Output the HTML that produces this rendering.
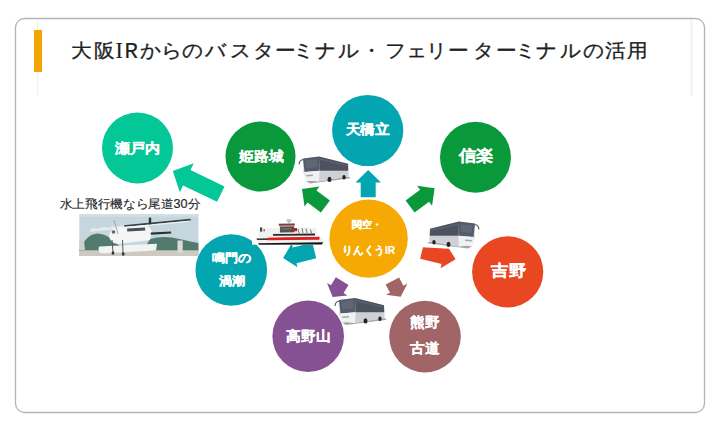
<!DOCTYPE html>
<html><head><meta charset="utf-8"><style>
html,body{margin:0;padding:0;background:#fff;}
svg{display:block;font-family:"Liberation Sans",sans-serif;}
</style></head><body>
<svg width="720" height="432" viewBox="0 0 720 432">
<rect x="15.5" y="18.5" width="689" height="394" rx="9" fill="#fff" stroke="#b4b4b4" stroke-width="1.3"/>
<line x1="37.6" y1="20" x2="37.6" y2="96" stroke="#eff1f3" stroke-width="1"/>
<rect x="34" y="30" width="8" height="42" fill="#f4a405"/>
<rect x="690" y="20" width="3" height="75.5" fill="#f4f4f5"/>
<g fill="#1f1f1f" stroke="#1f1f1f" stroke-width="0.3">
<text transform="scale(1.09,1)" font-size="19" y="56.9" x="65.60 86.06 128.85 147.61 167.11 187.80 211.15 231.83 251.97 268.90 288.76 310.00 331.06 353.39 372.80 391.15 411.38 434.40 454.59 472.25 492.11 514.13 534.68 554.72 575.09">大阪からのバスターミナル・フェリーターミナルの活用</text>
<text x="115.2" y="57.5" font-family="Liberation Serif, serif" font-size="23.5" stroke-width="0">I</text>
<text x="124.6" y="57.5" font-family="Liberation Mono, monospace" font-size="22.5" stroke-width="0.15">R</text>
</g>
<polygon points="0.00,-8.50 37.81,-8.50 37.81,-16.00 53.31,0.00 37.81,16.00 37.81,8.50 0.00,8.50" fill="#04c797" transform="translate(220.80,194.20) rotate(-154.20)"/>
<polygon points="0.00,-7.50 14.80,-7.50 14.80,-12.75 27.30,0.00 14.80,12.75 14.80,7.50 0.00,7.50" fill="#02a5b0" transform="translate(368.20,197.30) rotate(-90.00)"/>
<polygon points="0.00,-7.50 16.72,-7.50 16.72,-12.50 29.22,0.00 16.72,12.50 16.72,7.50 0.00,7.50" fill="#0a993a" transform="translate(325.40,206.50) rotate(-143.21)"/>
<polygon points="0.00,-7.50 18.08,-7.50 18.08,-12.50 30.58,0.00 18.08,12.50 18.08,7.50 0.00,7.50" fill="#0a993a" transform="translate(410.10,206.60) rotate(-36.76)"/>
<polygon points="0.00,-8.10 20.31,-8.10 20.31,-12.20 32.11,0.00 20.31,12.20 20.31,8.10 0.00,8.10" fill="#02a5b0" transform="translate(314.30,250.50) rotate(166.31)"/>
<polygon points="0.00,-8.00 22.09,-8.00 22.09,-12.30 34.59,0.00 22.09,12.30 22.09,8.00 0.00,8.00" fill="#e84722" transform="translate(422.00,251.10) rotate(13.71)"/>
<polygon points="0.00,-7.40 9.49,-7.40 9.49,-12.00 18.49,0.00 9.49,12.00 9.49,7.40 0.00,7.40" fill="#865193" transform="translate(342.20,281.10) rotate(121.28)"/>
<polygon points="0.00,-7.60 9.31,-7.60 9.31,-12.15 17.91,0.00 9.31,12.15 9.31,7.60 0.00,7.60" fill="#a16567" transform="translate(392.35,280.95) rotate(62.22)"/>
<circle cx="137.5" cy="148" r="35.5" fill="#04c797"/>
<circle cx="260.5" cy="156.5" r="35" fill="#0a993a"/>
<circle cx="367.7" cy="130.5" r="35.6" fill="#02a5b0"/>
<circle cx="475.5" cy="157.3" r="35.5" fill="#0a993a"/>
<circle cx="507.7" cy="271.8" r="35.6" fill="#e84722"/>
<circle cx="425" cy="336.6" r="35.8" fill="#a16567"/>
<circle cx="308.2" cy="336.3" r="35.8" fill="#865193"/>
<circle cx="231.3" cy="270" r="35.8" fill="#02a5b0"/>
<circle cx="368.6" cy="238.6" r="39.2" fill="#f6a902"/>
<text x="115.18" y="153.40" font-size="14.10" font-weight="bold" fill="#fff" stroke="#fff" stroke-width="0.25" stroke-linejoin="round" textLength="45.25" lengthAdjust="spacingAndGlyphs">瀬戸内</text>
<text x="239.48" y="160.70" font-size="14.10" font-weight="bold" fill="#fff" stroke="#fff" stroke-width="0.25" stroke-linejoin="round" textLength="44.25" lengthAdjust="spacingAndGlyphs">姫路城</text>
<text x="345.57" y="133.70" font-size="13.60" font-weight="bold" fill="#fff" stroke="#fff" stroke-width="0.25" stroke-linejoin="round" textLength="44.25" lengthAdjust="spacingAndGlyphs">天橋立</text>
<text x="458.62" y="160.90" font-size="15.60" font-weight="bold" fill="#fff" stroke="#fff" stroke-width="0.25" stroke-linejoin="round" textLength="34.75" lengthAdjust="spacingAndGlyphs">信楽</text>
<text x="491.23" y="276.00" font-size="16.10" font-weight="bold" fill="#fff" stroke="#fff" stroke-width="0.25" stroke-linejoin="round" textLength="34.75" lengthAdjust="spacingAndGlyphs">吉野</text>
<text x="410.17" y="327.00" font-size="13.60" font-weight="bold" fill="#fff" stroke="#fff" stroke-width="0.25" stroke-linejoin="round" textLength="29.45" lengthAdjust="spacingAndGlyphs">熊野</text>
<text x="410.17" y="353.20" font-size="13.60" font-weight="bold" fill="#fff" stroke="#fff" stroke-width="0.25" stroke-linejoin="round" textLength="29.45" lengthAdjust="spacingAndGlyphs">古道</text>
<text x="286.12" y="340.70" font-size="13.60" font-weight="bold" fill="#fff" stroke="#fff" stroke-width="0.25" stroke-linejoin="round" textLength="44.35" lengthAdjust="spacingAndGlyphs">高野山</text>
<text x="211.90" y="262.00" font-size="12.30" font-weight="bold" fill="#fff" stroke="#fff" stroke-width="0.2" stroke-linejoin="round" textLength="39.40" lengthAdjust="spacingAndGlyphs">鳴門の</text>
<text x="218.55" y="284.60" font-size="12.30" font-weight="bold" fill="#fff" stroke="#fff" stroke-width="0.2" stroke-linejoin="round" textLength="26.10" lengthAdjust="spacingAndGlyphs">渦潮</text>
<text x="352.40" y="228.40" font-size="10.30" font-weight="bold" fill="#fff" stroke="#fff" stroke-width="0.2" stroke-linejoin="round" textLength="29.80" lengthAdjust="spacingAndGlyphs">関空・</text>
<text x="342.40" y="253.80" font-size="10.60" font-weight="bold" fill="#fff" stroke="#fff" stroke-width="0.2" stroke-linejoin="round" textLength="52.80" lengthAdjust="spacingAndGlyphs">りんくうIR</text>
<text x="59.6" y="208.4" font-size="12" fill="#262626" stroke="#262626" stroke-width="0.15" textLength="140.6" lengthAdjust="spacingAndGlyphs">水上飛行機なら尾道30分</text>
<g>
<rect x="79.3" y="214.3" width="119.1" height="41.7" fill="#c5d6de"/>
<rect x="79.3" y="214.3" width="119.1" height="2.5" fill="#d3dee3"/>
<path d="M79.3,250 L82,246 Q86,235 97,233.5 Q106,233.5 112,240 L120,246 L146,246 L150,239 Q160,236 172,237.5 L184,240 Q192,242 198.4,243 L198.4,251 L79.3,251 Z" fill="#527a6e"/>
<path d="M79.3,240 L84,240 L85,250 L79.3,250 Z" fill="#cfd0cc"/>
<rect x="79.3" y="250.3" width="119.1" height="5.7" fill="#ccc9c1"/>
<rect x="177.5" y="240.5" width="5.2" height="12" fill="#dcdcd7"/>
<path d="M89.5,228.6 L190.4,218.8 L191.2,220.4 L89.8,230.2 Z" fill="#3a4247"/>
<path d="M89,228.2 L124,224.8 L124.5,227.4 L89.6,230.6 Z" fill="#dfe4e6"/>
<path d="M89.8,230.2 L191.2,220.4 L186,222.2 L91,231.6 Z" fill="#eef1f2"/>
<rect x="148.8" y="217.6" width="2.4" height="6.8" fill="#2b3237"/>
<path d="M109,236 Q110,229 117,227.5 L144,225.6 Q151,226.5 152,232 L150,240 L118,244 Q110,243 109,236 Z" fill="#f4f6f6"/>
<path d="M127,228.6 L145,227.5 L145.3,230.6 L127.3,231.4 Z" fill="#485058"/>
<path d="M150.7,232.6 L171,231.4 L171.2,233.6 L150.8,234.8 Z" fill="#2b3237"/>
<path d="M99,246.5 L157,243.8 L156,250.5 L101,253.6 Q97.5,251 99,246.5 Z" fill="#f2f4f4"/>
<path d="M112,240 L113,252 M122.5,240 L123,253" stroke="#52585c" stroke-width="1"/>
<ellipse cx="113" cy="253" rx="1.4" ry="1.7" fill="#333"/>
<ellipse cx="123.2" cy="254" rx="1.4" ry="1.7" fill="#333"/>
<path d="M114,220 L118,234" stroke="#9aa2a6" stroke-width="0.9"/>
<circle cx="113.5" cy="232" r="1.8" fill="#61686d"/>
</g>
<g transform="translate(296,154)"><path d="M10,27.2 L52,22.6 L55,24.2 L14,29.6 Z" fill="#3a3a3a" opacity=".45"/>
<path d="M7,4.5 L23,2.4 L52,9.8 L52.5,22.5 L23,27.5 L10,26 L7,18 Z" fill="#dfe2e6"/>
<path d="M23.5,16.8 L52.3,16.8 L52.5,22.5 L23,27.5 Z" fill="#cdd1d6"/>
<path d="M7,4.5 L23,2.4 L23.5,16.8 L8.5,18 Z" fill="#545b6a"/>
<path d="M9.5,6.5 L21,5 L21.5,13 L10,14 Z" fill="#646c7c" opacity=".7"/>
<path d="M23,2.4 L52,9.8 L52.3,16.8 L23.5,16.8 Z" fill="#4c525e"/>
<path d="M24,4.5 L51,11 L51,12 L24,6 Z" fill="#5c6371"/>
<path d="M8.5,18 L23.5,16.8 L23,27.5 L10,26 Z" fill="#f0f1f3"/>
<path d="M10,21 L17,20.5 L17,22 L10.5,22.5 Z" fill="#a3a8b0"/>
<ellipse cx="33.5" cy="25.4" rx="2" ry="2.6" fill="#252525"/>
<ellipse cx="48" cy="23.2" rx="1.7" ry="2.2" fill="#252525"/>
<path d="M7.5,5.5 Q3,6 3.2,10.5" stroke="#5a5a5a" fill="none" stroke-width="1.1"/></g>
<g transform="translate(332,295.5)"><path d="M10,27.2 L52,22.6 L55,24.2 L14,29.6 Z" fill="#3a3a3a" opacity=".45"/>
<path d="M7,4.5 L23,2.4 L52,9.8 L52.5,22.5 L23,27.5 L10,26 L7,18 Z" fill="#dfe2e6"/>
<path d="M23.5,16.8 L52.3,16.8 L52.5,22.5 L23,27.5 Z" fill="#cdd1d6"/>
<path d="M7,4.5 L23,2.4 L23.5,16.8 L8.5,18 Z" fill="#545b6a"/>
<path d="M9.5,6.5 L21,5 L21.5,13 L10,14 Z" fill="#646c7c" opacity=".7"/>
<path d="M23,2.4 L52,9.8 L52.3,16.8 L23.5,16.8 Z" fill="#4c525e"/>
<path d="M24,4.5 L51,11 L51,12 L24,6 Z" fill="#5c6371"/>
<path d="M8.5,18 L23.5,16.8 L23,27.5 L10,26 Z" fill="#f0f1f3"/>
<path d="M10,21 L17,20.5 L17,22 L10.5,22.5 Z" fill="#a3a8b0"/>
<ellipse cx="33.5" cy="25.4" rx="2" ry="2.6" fill="#252525"/>
<ellipse cx="48" cy="23.2" rx="1.7" ry="2.2" fill="#252525"/>
<path d="M7.5,5.5 Q3,6 3.2,10.5" stroke="#5a5a5a" fill="none" stroke-width="1.1"/></g>
<path d="M417,236 H454 V248.9 L417,246.9 Z" fill="#fff"/>
<g transform="translate(482,219) scale(-1,1)"><path d="M10,27.2 L52,22.6 L55,24.2 L14,29.6 Z" fill="#3a3a3a" opacity=".45"/>
<path d="M7,4.5 L23,2.4 L52,9.8 L52.5,22.5 L23,27.5 L10,26 L7,18 Z" fill="#dfe2e6"/>
<path d="M23.5,16.8 L52.3,16.8 L52.5,22.5 L23,27.5 Z" fill="#cdd1d6"/>
<path d="M7,4.5 L23,2.4 L23.5,16.8 L8.5,18 Z" fill="#545b6a"/>
<path d="M9.5,6.5 L21,5 L21.5,13 L10,14 Z" fill="#646c7c" opacity=".7"/>
<path d="M23,2.4 L52,9.8 L52.3,16.8 L23.5,16.8 Z" fill="#4c525e"/>
<path d="M24,4.5 L51,11 L51,12 L24,6 Z" fill="#5c6371"/>
<path d="M8.5,18 L23.5,16.8 L23,27.5 L10,26 Z" fill="#f0f1f3"/>
<path d="M10,21 L17,20.5 L17,22 L10.5,22.5 Z" fill="#a3a8b0"/>
<ellipse cx="33.5" cy="25.4" rx="2" ry="2.6" fill="#252525"/>
<ellipse cx="48" cy="23.2" rx="1.7" ry="2.2" fill="#252525"/>
<path d="M7.5,5.5 Q3,6 3.2,10.5" stroke="#5a5a5a" fill="none" stroke-width="1.1"/></g>
<g>
<rect x="252" y="216" width="76" height="28.7" fill="#fff"/>
<path d="M255,237.6 L320,236.6 L325.8,241.3 L322.5,244.5 L259,244.7 Z" fill="#f2f2f2"/>
<path d="M256.5,238.6 L268,238.3 L268,240 L257,240.1 Z" fill="#3a3a3a"/>
<path d="M267.5,237.6 L319.5,236.8 L319.5,239.8 L267.5,240.2 Z" fill="#de1f1f"/>
<path d="M258,243.3 L323,242.3 L322,244.5 L259,244.8 Z" fill="#161616"/>
<path d="M259,228.5 L316,227.5 L317.5,236.6 L258,237.4 Z" fill="#f0f0f0"/>
<path d="M273,234 L315,233.5 L315,235.4 L273,235.7 Z" fill="#2a2a2a"/>
<rect x="260" y="227.4" width="2.2" height="4.2" fill="#4a4a4a"/>
<rect x="263.5" y="229" width="1.5" height="2.5" fill="#888"/>
<path d="M298,229 L299,233 M302,228 L303,233 M306,228.5 L307,233 M310.5,229.5 L311.5,233" stroke="#777" stroke-width="1"/>
<path d="M278.8,223.8 L294.7,223.4 L295.3,233.6 L278.6,233.9 Z" fill="#e6e6e6"/>
<path d="M278.8,223.8 L294.7,223.4 L294.8,225.4 L278.8,225.7 Z" fill="#8c3838"/>
<path d="M280,226.6 L294,226.3 L294.2,232.2 L280,232.5 Z" fill="#545454"/>
<path d="M281,229 L293.5,228.8" stroke="#8a8a8a" stroke-width="0.7"/>
<rect x="291" y="228" width="6" height="3.3" fill="#a32b2b"/>
<rect x="286.6" y="219.2" width="4.8" height="2.7" fill="#c4c4c4"/>
<rect x="288.4" y="221.5" width="1" height="2.2" fill="#999"/>
</g>
</svg>
</body></html>
